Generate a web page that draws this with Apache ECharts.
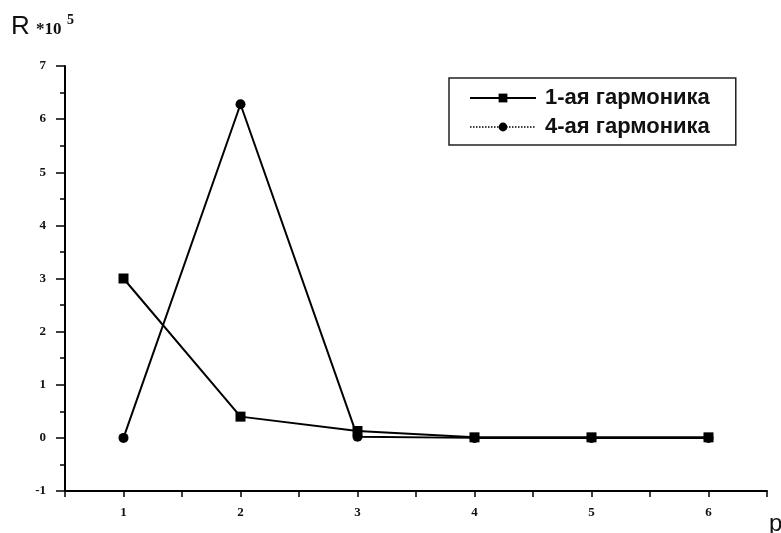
<!DOCTYPE html>
<html>
<head>
<meta charset="utf-8">
<script src="https://cdn.jsdelivr.net/npm/echarts@6/dist/echarts.min.js"></script>
<style>
  html, body { margin: 0; padding: 0; background: #fff; }
  #chart { width: 781px; height: 533px; }
</style>
</head>
<body>
<div id="chart"></div>
<script>
// harmonic number p and R values (x 10^5)
const pValues = [1, 2, 3, 4, 5, 6];
const harm1 = [3.0, 0.4, 0.13, 0.01, 0.01, 0.01];
const harm4 = [0.0, 6.28, 0.02, 0.0, 0.0, 0.0];
const seriesNames = ["1-ая гармоника", "4-ая гармоника"];

const chart = echarts.init(document.getElementById("chart"));

const toPairs = (ys) => pValues.map((p, i) => [p, ys[i]]);
const tickFont = { fontFamily: "Liberation Serif", fontWeight: "bold", fontSize: 13, color: "#111" };

const option = {
  animation: false,
  backgroundColor: "#fff",
  grid: { left: 65, right: 14, top: 66, bottom: 42 },
  xAxis: {
    type: "value",
    min: 0.5,
    max: 6.5,
    interval: 0.5,
    axisLine: { onZero: false, lineStyle: { color: "#000", width: 2 } },
    axisTick: { length: 6, lineStyle: { color: "#000", width: 1.5 } },
    axisLabel: {
      ...tickFont,
      margin: 15,
      formatter: (v) => (Number.isInteger(v) && v >= 1 && v <= 6 ? String(v) : ""),
    },
    splitLine: { show: false },
  },
  yAxis: {
    type: "value",
    min: -1,
    max: 7,
    interval: 1,
    axisLine: { onZero: false, lineStyle: { color: "#000", width: 2 } },
    axisTick: { length: 9, lineStyle: { color: "#000", width: 1.5 } },
    minorTick: { show: true, splitNumber: 2, length: 5, lineStyle: { color: "#000", width: 1.5 } },
    axisLabel: { ...tickFont, margin: 19 },
    splitLine: { show: false },
  },
  legend: {
    left: 449,
    top: 78,
    orient: "vertical",
    itemWidth: 66,
    itemHeight: 11,
    itemGap: 7,
    padding: [9, 26, 7, 20],
    borderColor: "#222",
    borderWidth: 1.5,
    textStyle: { fontFamily: "Liberation Sans", fontWeight: "bold", fontSize: 22, color: "#111", padding: [0, 0, 0, 4] },
    data: [
      { name: seriesNames[0] },
      { name: seriesNames[1], lineStyle: { type: "dotted", width: 1.5 } },
    ],
  },
  series: [
    {
      name: seriesNames[0],
      type: "line",
      data: toPairs(harm1),
      symbol: "rect",
      symbolSize: 10,
      z: 3,
      lineStyle: { color: "#000", width: 2 },
      itemStyle: { color: "#000" },
    },
    {
      name: seriesNames[1],
      type: "line",
      data: toPairs(harm4),
      symbol: "circle",
      symbolSize: 10,
      z: 2,
      lineStyle: { color: "#000", width: 2 },
      itemStyle: { color: "#000" },
    },
  ],
  graphic: [
    { type: "text", left: 11, top: 14, style: { text: "R", font: "26px 'Liberation Sans'", fill: "#111" } },
    { type: "text", left: 36, top: 21, style: { text: "*10", font: "bold 17px 'Liberation Serif'", fill: "#111" } },
    { type: "text", left: 67, top: 13, style: { text: "5", font: "bold 14px 'Liberation Serif'", fill: "#111" } },
    { type: "text", left: 769, top: 512, style: { text: "p", font: "24px 'Liberation Sans'", fill: "#111" } },
  ],
};

chart.setOption(option);
</script>
</body>
</html>
